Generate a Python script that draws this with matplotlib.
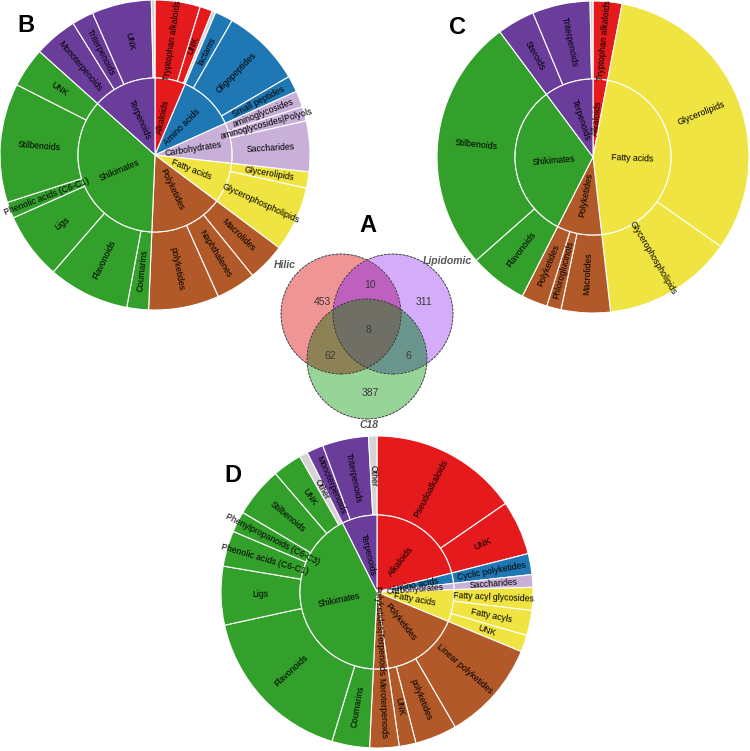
import matplotlib
matplotlib.use('Agg')
import matplotlib.pyplot as plt
from matplotlib.patches import Wedge, Circle
import matplotlib.colors as mcolors
import numpy as np

plt.rcParams['font.family'] = ['Liberation Sans', 'DejaVu Sans']

# ---------------- colours per class ----------------
class_names = ['Alkaloids', 'Amino acids', 'Carbohydrates', 'Fatty acids',
               'Polyketides', 'Polyketides|Terpenoids', 'Shikimates', 'Terpenoids']
class_colors = ['#E41A1C', '#1F78B4', '#C9B0D8', '#F0E442',
                '#B15928', '#B15928', '#33A02C', '#6A3D9A']
other_color = '#D4D4D4'

# ---------------- Panel B (Hilic) ----------------
B_parent = ['Alkaloids', 'Alkaloids', 'Alkaloids',
            'Amino acids', 'Amino acids', 'Amino acids',
            'Carbohydrates', 'Carbohydrates', 'Carbohydrates',
            'Fatty acids', 'Fatty acids',
            'Polyketides', 'Polyketides', 'Polyketides',
            'Shikimates', 'Shikimates', 'Shikimates', 'Shikimates', 'Shikimates', 'Shikimates',
            'Terpenoids', 'Terpenoids', 'Terpenoids', 'Terpenoids']
B_leaf = ['Tryptophan alkaloids', 'UNK', 'Other',
          'lactams', 'Oligopeptides', 'Small peptides',
          'aminoglycosides', 'aminoglycosides|Polyols', 'Saccharides',
          'Glycerolipids', 'Glycerophospholipids',
          'Macrolides', 'Naphthalenes', 'polyketides',
          'Coumarins', 'Flavonoids', 'Ligs', 'Phenolic acids (C6-C1)', 'Stilbenoids', 'UNK',
          'Monoterpenoids', 'Triterpenoids', 'UNK', 'Other']
B_value = [25, 7, 2,
           10, 44, 9,
           9, 8, 28,
           9, 36,
           21, 22, 39,
           12, 45, 37, 9, 66, 22,
           24, 12, 33, 2]

# ---------------- Panel C (Lipidomic) ----------------
C_parent = ['Alkaloids',
            'Fatty acids', 'Fatty acids',
            'Polyketides', 'Polyketides', 'Polyketides',
            'Shikimates', 'Shikimates',
            'Terpenoids', 'Terpenoids', 'Terpenoids']
C_leaf = ['Tryptophan alkaloids',
          'Glycerolipids', 'Glycerophospholipids',
          'Macrolides', 'Phloroglucinols', 'Polyketides',
          'Flavonoids', 'Stilbenoids',
          'Steroids', 'Triterpenoids', 'Other']
C_value = [10,
           106, 45,
           17, 5, 9,
           20, 88,
           13, 20, 1]

# ---------------- Panel D (C18) ----------------
D_parent = ['Alkaloids', 'Alkaloids',
            'Amino acids',
            'Carbohydrates',
            'Fatty acids', 'Fatty acids', 'Fatty acids',
            'Polyketides', 'Polyketides', 'Polyketides',
            'Polyketides|Terpenoids',
            'Shikimates', 'Shikimates', 'Shikimates', 'Shikimates', 'Shikimates',
            'Shikimates', 'Shikimates', 'Shikimates',
            'Terpenoids', 'Terpenoids', 'Terpenoids']
D_leaf = ['Pseudoalkaloids', 'UNK',
          'Cyclic polyketides',
          'Saccharides',
          'Fatty acyl glycosides', 'Fatty acyls', 'UNK',
          'Linear polyketides', 'polyketides', 'UNK',
          'Meroterpenoids',
          'Coumarins', 'Flavonoids', 'Ligs', 'Phenolic acids (C6-C1)',
          'Phenylpropanoids (C6-C3)', 'Stilbenoids', 'UNK', 'Other',
          'Monoterpenoids', 'Triterpenoids', 'Other']
D_value = [71, 26,
           10,
           6,
           11, 12, 8,
           48, 20, 8,
           14,
           18, 78, 28, 17,
           10, 24, 14, 4,
           8, 22, 4]

# ---------------- Venn (A) ----------------
venn_sets = ['Hilic', 'Lipidomic', 'C18']
venn_counts = {'100': 453, '010': 311, '001': 387, '110': 10,
               '101': 62, '011': 6, '111': 8}
venn_region_colors = {'100': '#F09696', '010': '#D4ACFA', '001': '#98D498',
                      '110': '#BE60BE', '101': '#8C8256', '011': '#6A968C',
                      '111': '#717065'}

W, H = 750, 751
fig = plt.figure(figsize=(W / 100, H / 100), dpi=100)
ax = fig.add_axes([0, 0, 1, 1])
ax.set_xlim(0, W)
ax.set_ylim(0, H)
ax.axis('off')

FS = 6.3


def radial_rot(theta):
    rot = 90 - theta
    while rot > 90:
        rot -= 180
    while rot <= -90:
        rot += 180
    return rot


def sunburst(cx, cy, r_in, r_out, parents, leaves, values):
    cy = H - cy
    total = float(sum(values))
    cmap = dict(zip(class_names, class_colors))
    start = 0.0
    groups = []
    for p, name, v in zip(parents, leaves, values):
        span = 360.0 * v / total
        end = start + span
        col = other_color if name == 'Other' else cmap[p]
        ax.add_patch(Wedge((cx, cy), r_out, 90 - end, 90 - start, width=r_out - r_in,
                           facecolor=col, edgecolor='white', linewidth=0.8))
        if span >= 2.0:
            mid = (start + end) / 2
            rm = (r_in + r_out) / 2
            x = cx + rm * np.sin(np.radians(mid))
            y = cy + rm * np.cos(np.radians(mid))
            ax.text(x, y, name, rotation=radial_rot(mid), rotation_mode='anchor',
                    ha='center', va='center', fontsize=FS, color='black')
        if groups and groups[-1][0] == p:
            groups[-1][2] = end
        else:
            groups.append([p, start, end])
        start = end
    for p, s, e in groups:
        ax.add_patch(Wedge((cx, cy), r_in, 90 - e, 90 - s,
                           facecolor=cmap[p], edgecolor='white', linewidth=0.8))
        mid = (s + e) / 2
        rm = r_in / 2
        x = cx + rm * np.sin(np.radians(mid))
        y = cy + rm * np.cos(np.radians(mid))
        ax.text(x, y, p, rotation=radial_rot(mid), rotation_mode='anchor',
                ha='center', va='center', fontsize=FS, color='black')


sunburst(155, 155, 77, 155, B_parent, B_leaf, B_value)
sunburst(593, 157, 78, 156, C_parent, C_leaf, C_value)
sunburst(377, 592, 77, 156, D_parent, D_leaf, D_value)

# Venn diagram: regions rasterised from circle membership
venn_centers = [(341, 314), (393, 314), (367, 359)]
vr = 60
x0, x1, y0, y1 = 270, 465, 240, 430
ss = 3
xs = np.linspace(x0, x1, (x1 - x0) * ss)
ys = np.linspace(H - y1, H - y0, (y1 - y0) * ss)
XX, YY = np.meshgrid(xs, ys)
inside = [((XX - cx) ** 2 + (YY - (H - cy)) ** 2) <= vr ** 2 for cx, cy in venn_centers]
img = np.zeros(XX.shape + (4,))
for key, col in venn_region_colors.items():
    m = np.ones(XX.shape, bool)
    for bit, ins in zip(key, inside):
        m &= ins if bit == '1' else ~ins
    img[m] = mcolors.to_rgba(col)
ax.imshow(img, extent=(x0, x1, H - y1, H - y0), origin='lower', interpolation='antialiased',
          zorder=2, aspect='auto')
for (x, y) in venn_centers:
    ax.add_patch(Circle((x, H - y), vr, facecolor='none', edgecolor='#333333',
                        linewidth=0.6, linestyle=(0, (3, 1.5)), zorder=3))
ax.set_xlim(0, W)
ax.set_ylim(0, H)
count_pos = {'100': (322, 302), '010': (424, 302), '001': (370, 393),
             '110': (370, 285), '101': (330, 356), '011': (408, 356), '111': (368, 330)}
for k, v in venn_counts.items():
    x, y = count_pos[k]
    ax.text(x, H - y, str(v), ha='center', va='center', fontsize=7.5, color='#3a3a3a', zorder=4)
set_label_pos = [(285, 265), (447, 261), (369, 425)]
for name, (x, y) in zip(venn_sets, set_label_pos):
    ax.text(x, H - y, name, ha='center', va='center', fontsize=7.5, color='#555555',
            fontstyle='italic', fontweight='bold', zorder=4)

# Panel letters
for letter, (x, y) in zip(['A', 'B', 'C', 'D'], [(368, 226), (26, 25), (458, 27), (233, 475)]):
    ax.text(x, H - y, letter, ha='center', va='center', fontsize=17, fontweight='bold',
            color='black')

fig.savefig('out.png', dpi=100)
